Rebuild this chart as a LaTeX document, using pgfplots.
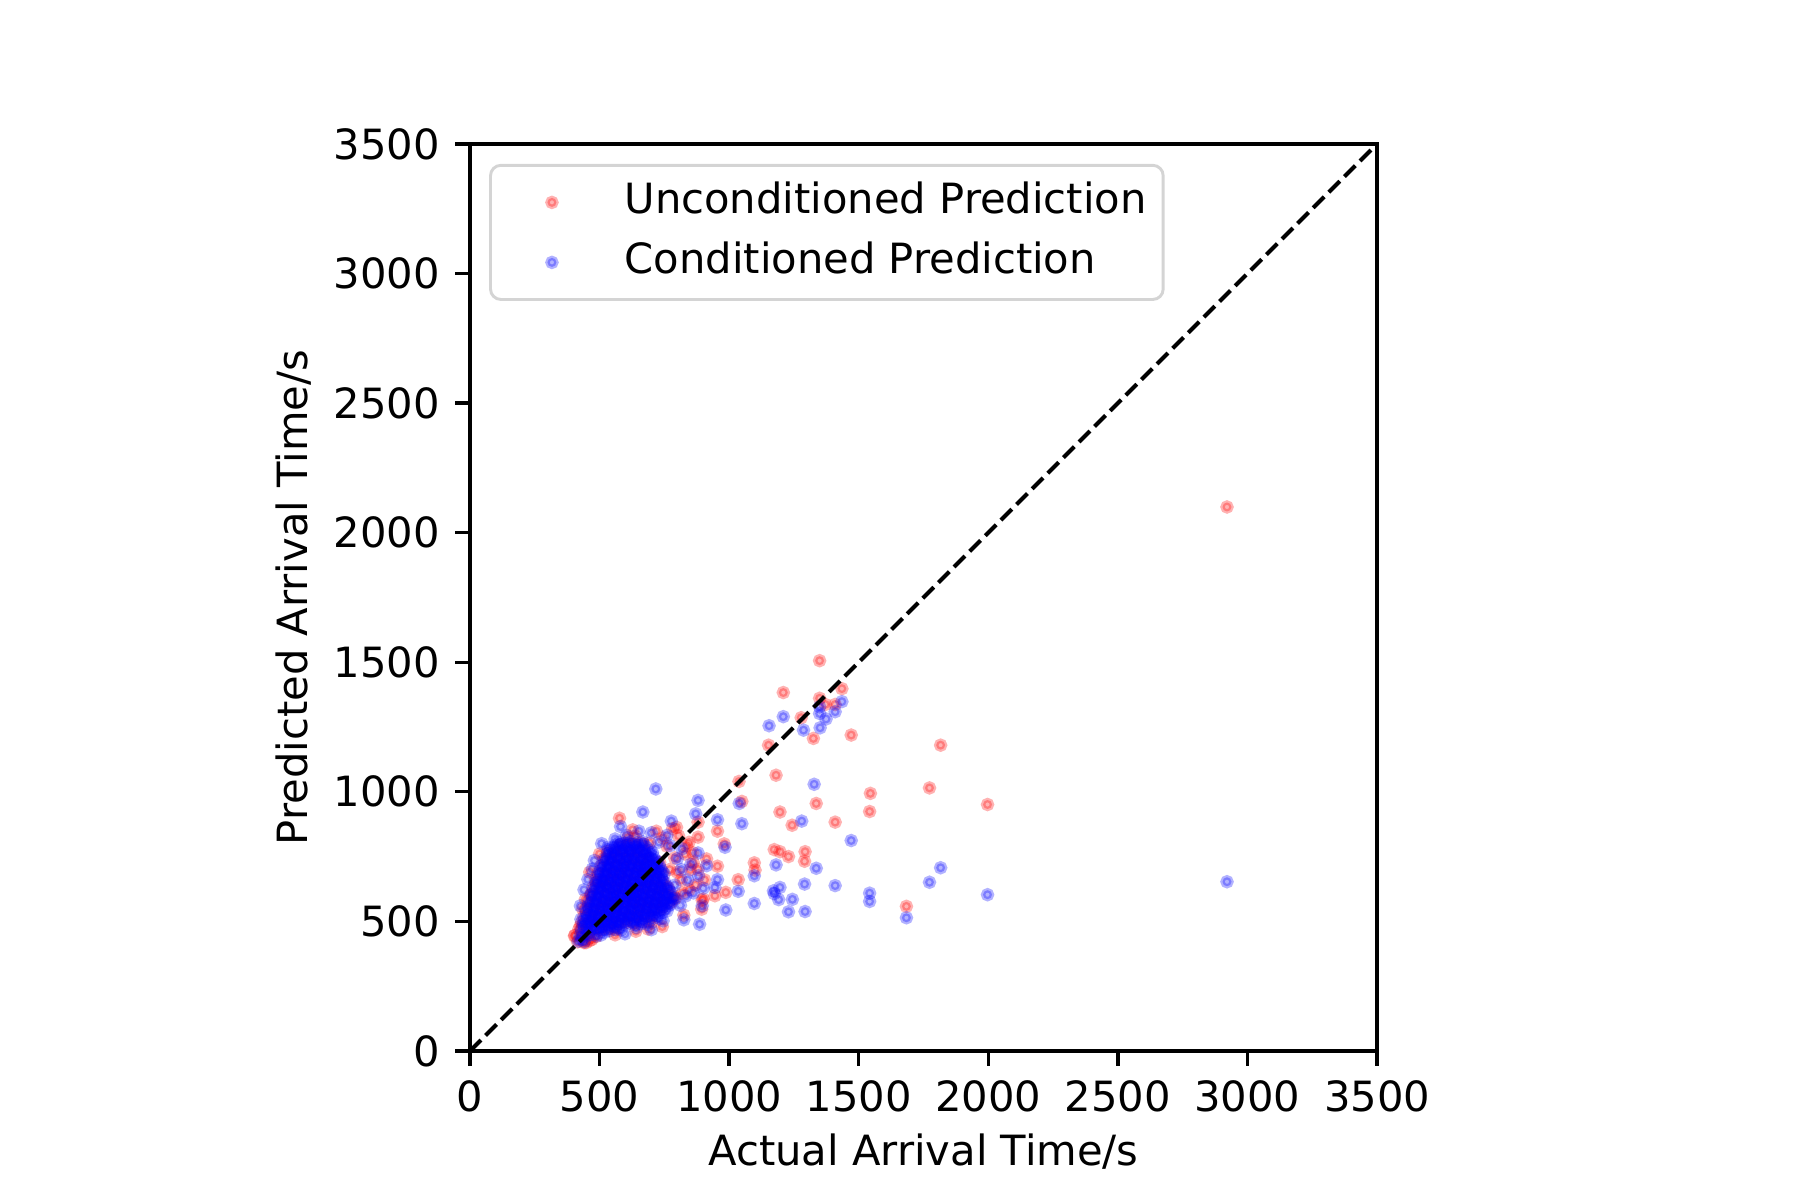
\documentclass[border=0pt]{standalone}
\usepackage{fontspec}
\setmainfont{DejaVu Sans}
\usepackage{pgfplots}
\pgfplotsset{compat=1.18}

\begin{document}
\begin{tikzpicture}
\path (-112.8pt,-35.76pt) rectangle (319.2pt,252.24pt);
\begin{axis}[
  at={(0,0)}, anchor=south west,
  scale only axis, width=217.7pt, height=217.7pt,
  xmin=0, xmax=3500, ymin=0, ymax=3500,
  clip mode=individual,
  xtick={0,500,...,3500}, ytick={0,500,...,3500},
  tick align=outside, tick pos=left,
  major tick length=3.5pt,
  every tick/.style={black, line width=0.8pt},
  axis line style={line width=0.8pt},
  scaled ticks=false,
  /pgf/number format/assume math mode=true,
  /pgf/number format/set thousands separator={},
  tick label style={font=\fontsize{10}{12}\selectfont, inner sep=0pt},
  xticklabel style={yshift=-3.3pt},
  yticklabel style={xshift=-3.6pt},
  label style={font=\fontsize{10}{12}\selectfont},
  xlabel={Actual Arrival Time/s},
  ylabel={Predicted Arrival Time/s},
  xlabel style={at={(axis description cs:0.5,-0.111)}, anchor=center},
  ylabel style={at={(axis description cs:-0.194,0.5)}, anchor=center},
  legend cell align=left,
  legend style={at={(0.021,0.978)}, anchor=north west,
    draw=black!17, line width=0.7pt, rounded corners=2.5pt,
    fill=white, fill opacity=0.8, draw opacity=1, text opacity=1,
    inner xsep=4pt, inner ysep=1.9pt, column sep=8.5pt, row sep=0.4pt,
    font=\fontsize{10}{12}\selectfont,
    nodes={inner xsep=0pt, inner ysep=2pt, text height=7.6pt, text depth=2.4pt}},
  legend image code/.code={
    \path (0pt,0pt) (19pt,0pt);
    \draw[#1] plot coordinates {(10.4pt,0pt)};
  },
]
% Unconditioned prediction (red): outliers, edge points, then the cluster row by row
\addplot[only marks, mark=*, mark size=1.08pt,
  mark options={draw=red, fill=red, draw opacity=0.3, fill opacity=0.3, line width=1.05pt}]
  coordinates {
(2921,2099)
(1349,1506) (1209,1383) (1435,1398) (1349,1361) (1371,1337) (1409,1337) (1278,1286) (1325,1206)
(1471,1219) (1152,1180) (1816,1180) (1181,1064) (1038,1040) (1049,963) (1545,994) (1773,1015)
(1997,951) (1336,955) (1542,924) (1196,922) (1243,871) (1409,883) (880,883) (955,848) (880,825)
(981,799) (1174,777) (1196,769) (1229,750) (1293,769) (1291,732) (1097,726) (1100,698) (955,713)
(1035,661) (987,612) (896,582) (825,524) (1684,558) (577,898) (719,848) (628,853) (693,802)
(797,863) (945,599) (900,586) (894,547) (700,495) (487,650) (468,605) (435,547) (403,444) (448,418)
(732,728) (835,792) (861,728) (913,741)
(800,690) (830,760) (850,700) (870,640) (820,610) (790,745) (845,805) (760,790) (805,830)
(880,700) (905,660) (782,858) (860,765) (745,822) (815,660) (792,588) (846,622) (770,700)
(688,470) (742,480) (640,462) (560,448) (470,430) (425,480) (445,585) (462,690) (500,760)
(415,421) (440,418) (462,426)
(405,446) (430,443) (458,449) (486,441)
(420,470) (448,466) (477,473) (505,468) (534,472) (563,467)
(430,495) (458,492) (487,498) (516,493) (545,497) (574,491) (603,496) (632,494) (661,499)
(440,520) (469,517) (498,523) (527,518) (556,522) (585,516) (614,521) (643,519) (672,524) (701,517)
(448,548) (477,545) (506,551) (535,546) (564,550) (593,544) (622,549) (651,547) (680,552) (709,545) (738,549)
(456,575) (485,572) (514,578) (543,573) (572,577) (601,571) (630,576) (659,574) (688,579) (717,572) (746,576) (775,573)
(465,602) (494,599) (523,605) (552,600) (581,604) (610,598) (639,603) (668,601) (697,606) (726,599) (755,603) (784,600)
(474,630) (503,627) (532,633) (561,628) (590,632) (619,626) (648,631) (677,629) (706,634) (735,627) (764,631)
(484,658) (513,655) (542,661) (571,656) (600,660) (629,654) (658,659) (687,657) (716,662) (745,655)
(494,686) (523,683) (552,689) (581,684) (610,688) (639,682) (668,687) (697,685) (726,690)
(505,714) (534,711) (563,717) (592,712) (621,716) (650,710) (679,715) (708,713)
(516,742) (545,739) (574,745) (603,740) (632,744) (661,738) (690,743)
(530,770) (559,767) (588,773) (617,768) (646,772) (675,766)
(579,795) (608,801) (637,796) (666,800)
(609,823) (638,829)
};
\addlegendentry{Unconditioned Prediction}

% Conditioned prediction (blue): outliers, edge points, then the cluster row by row
\addplot[only marks, mark=*, mark size=1.08pt,
  mark options={draw=blue, fill=blue, draw opacity=0.3, fill opacity=0.3, line width=1.05pt}]
  coordinates {
(2921,653)
(1349,1328) (1349,1302) (1374,1281) (1409,1309) (1435,1348) (1351,1247) (1287,1238) (1209,1290)
(1154,1255) (1328,1029) (717,1011) (880,967) (1039,955) (1049,877) (955,892) (871,915) (777,887)
(667,922) (581,866) (1280,887) (1471,812) (1816,707) (1773,651) (1997,603) (1684,514) (1542,609)
(1542,577) (1336,705) (1409,638) (1291,644) (1293,538) (1229,537) (1244,585) (1196,631) (1174,607)
(1191,584) (1181,718) (1097,676) (1097,569) (1035,616) (987,544) (955,661) (886,489) (896,560)
(745,502) (825,506) (880,764) (729,806) (480,735) (532,786) (984,786) (913,715) (945,631) (790,592)
(642,476) (1171,618)
(790,640) (815,700) (840,660) (862,610) (800,742) (772,792) (832,598) (882,676) (900,628)
(760,832) (700,842) (652,848) (604,832) (560,818) (472,702) (455,662) (440,622) (426,560)
(428,508) (520,458) (812,562) (852,720) (818,780) (760,540) (700,468) (598,452) (508,800)
(418,424) (432,431) (441,422)
(425,446) (447,443) (466,449) (488,444) (505,447)
(430,468) (452,465) (471,471) (494,466) (517,470) (538,464) (561,469) (583,467)
(438,490) (459,487) (483,493) (502,488) (526,492) (547,486) (570,491) (592,489) (614,494) (636,487) (660,491) (685,488)
(444,512) (466,509) (489,515) (510,510) (533,514) (556,508) (577,513) (601,511) (622,516) (645,509) (668,513) (690,510) (712,514) (731,511)
(450,535) (471,532) (495,538) (516,533) (539,537) (562,531) (584,536) (606,534) (629,539) (651,532) (674,536) (697,533) (718,537) (741,534)
(456,558) (478,555) (500,561) (523,556) (545,560) (568,554) (590,559) (613,557) (635,562) (657,555) (680,559) (702,556) (725,560) (747,557) (768,561)
(462,580) (484,577) (507,583) (529,578) (552,582) (574,576) (597,581) (619,579) (641,584) (664,577) (686,581) (709,578) (731,582) (753,579) (775,583)
(470,603) (492,600) (514,606) (537,601) (559,605) (581,599) (604,604) (626,602) (648,607) (671,600) (693,604) (716,601) (738,605) (760,602)
(478,626) (500,623) (522,629) (544,624) (566,628) (589,622) (611,627) (633,625) (656,630) (678,623) (700,627) (722,624) (745,628) (767,625)
(486,648) (507,645) (529,651) (551,646) (574,650) (596,644) (618,649) (641,647) (663,652) (685,645) (707,649) (730,646) (752,650)
(494,671) (515,668) (537,674) (560,669) (582,673) (604,667) (626,672) (649,670) (671,675) (693,668) (716,672) (738,669)
(502,694) (523,691) (546,697) (568,692) (590,696) (612,690) (635,695) (657,693) (679,698) (702,691) (724,695) (743,692)
(510,716) (532,713) (554,719) (576,714) (599,718) (621,712) (643,717) (666,715) (688,720) (710,713) (730,717)
(520,739) (541,736) (563,742) (586,737) (608,741) (630,735) (652,740) (675,738) (697,743) (716,736)
(530,762) (552,759) (574,765) (597,760) (619,764) (641,758) (663,763) (686,761) (704,766)
(548,784) (570,781) (593,787) (615,782) (637,786) (660,780) (682,785)
(575,805) (598,802) (621,808) (645,803) (666,807)
(441,479) (463,482) (483,477) (506,481) (528,478) (550,482) (572,476)
(449,501) (471,504) (494,499) (515,503) (537,500) (559,504) (581,498) (603,502) (625,500) (648,504) (672,499)
(455,523) (478,526) (500,521) (522,525) (545,522) (567,526) (589,520) (612,524) (634,522) (657,526) (680,521) (701,525) (722,522)
(461,546) (483,549) (506,544) (528,548) (551,545) (573,549) (595,543) (618,547) (640,545) (663,549) (686,544) (708,548) (730,545) (750,548)
(467,569) (489,572) (512,567) (534,571) (556,568) (579,572) (601,566) (624,570) (646,568) (668,572) (691,567) (713,571) (736,568) (757,571) (776,567)
(473,591) (496,594) (518,589) (541,593) (563,590) (586,594) (608,588) (630,592) (652,590) (675,594) (697,589) (720,593) (742,590) (764,593) (784,589)
(481,614) (503,617) (525,612) (548,616) (570,613) (592,617) (615,611) (637,615) (659,613) (682,617) (704,612) (727,616) (749,613) (771,616)
(489,637) (511,640) (533,635) (555,639) (577,636) (600,640) (622,634) (644,638) (667,636) (689,640) (711,635) (733,639) (756,636)
(497,659) (518,662) (540,657) (562,661) (585,658) (607,662) (629,656) (652,660) (674,658) (696,662) (718,657) (741,661)
(505,682) (526,685) (548,680) (571,684) (593,681) (615,685) (637,679) (660,683) (682,681) (704,685) (727,680) (749,684)
(513,705) (534,708) (557,703) (579,707) (601,704) (623,708) (646,702) (668,706) (690,704) (713,708) (735,703)
(521,727) (543,730) (565,725) (587,729) (610,726) (632,730) (654,724) (677,728) (699,726) (721,730)
(531,750) (552,753) (574,748) (597,752) (619,749) (641,753) (663,747) (686,751) (708,749)
(541,773) (563,776) (585,771) (608,775) (630,772) (652,776) (674,770) (697,774)
(561,795) (581,798) (604,793) (626,797) (648,794) (671,798)
};
\addlegendentry{Conditioned Prediction}

\addplot[black, line width=1pt, dash pattern=on 3.7pt off 1.6pt, forget plot]
  coordinates {(0,0) (3500,3500)};
\end{axis}
\end{tikzpicture}
\end{document}
